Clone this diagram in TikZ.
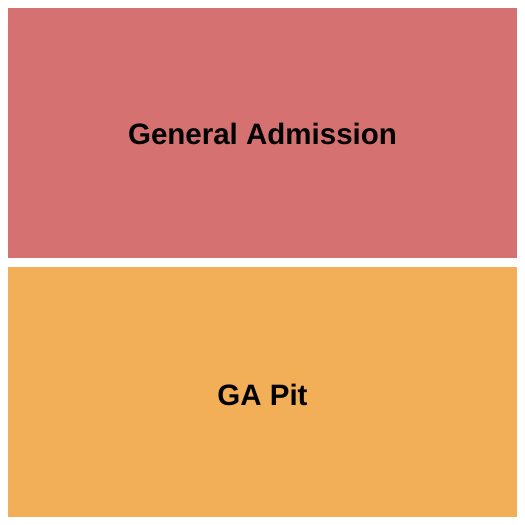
\documentclass[tikz,border=0pt]{standalone}
\usepackage{fontspec}
\setmainfont{Liberation Sans}
\definecolor{gared}{RGB}{214,113,113}
\definecolor{gaorange}{RGB}{243,174,88}
\begin{document}
\begin{tikzpicture}[x=1pt,y=-1pt,
  section/.style={draw=none},
  lbl/.style={font=\fontsize{29.5}{34}\selectfont\bfseries, text=black}]
\useasboundingbox (0,0) rectangle (525,525);
\fill[white] (0,0) rectangle (525,525);
\fill[gared] (8,8) rectangle (517,258);
\fill[gaorange] (8,267) rectangle (517,517);
\node[lbl] (ga) at (262.5,134) {General Admission};
\node[lbl] (pit) at (262.5,395) {GA Pit};
\end{tikzpicture}
\end{document}
